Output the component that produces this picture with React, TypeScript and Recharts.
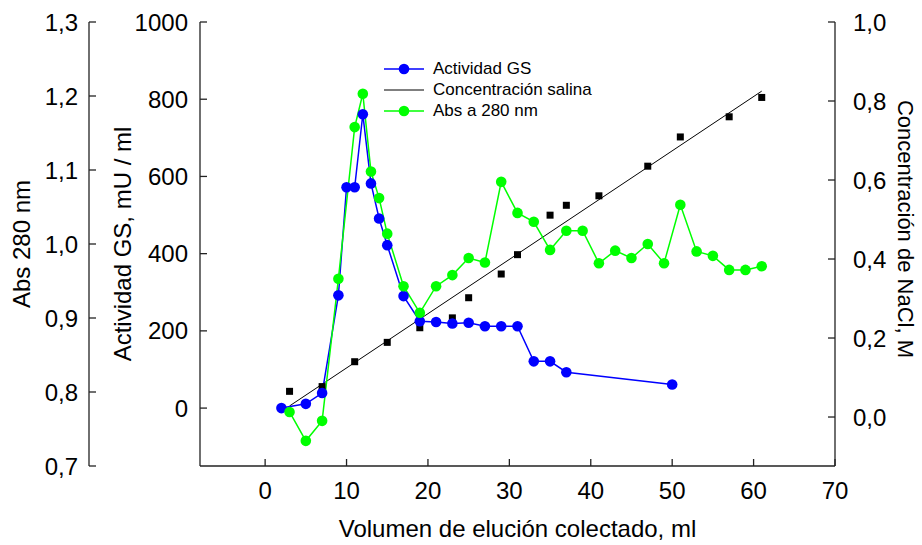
import { ComposedChart, Line, Scatter, XAxis, YAxis, Legend, Label } from 'recharts';

// Actividad GS (mU/ml) por volumen
const gsVolume = [2, 5, 7, 9, 10, 11, 12, 13, 14, 15, 17, 19, 21, 23, 25, 27, 29, 31, 33, 35, 37, 50];
const gsActivity = [0, 11, 39, 292, 572, 572, 761, 582, 491, 422, 290, 225, 223, 219, 221, 212, 212, 212, 121, 121, 93, 61];

// Abs a 280 nm
const absVolume = [3, 5, 7, 9, 11, 12, 13, 14, 15, 17, 19, 21, 23, 25, 27, 29, 31, 33, 35, 37, 39, 41, 43, 45, 47, 49, 51, 53, 55, 57, 59, 61];
const absValue = [
  0.773, 0.734, 0.761, 0.953, 1.158, 1.203, 1.098, 1.062, 1.014, 0.943, 0.907, 0.943, 0.958, 0.981, 0.975, 1.084,
  1.042, 1.03, 0.992, 1.018, 1.018, 0.974, 0.991, 0.981, 1.0, 0.974, 1.053, 0.99, 0.984, 0.965, 0.965, 0.97,
];

// NaCl medido (M)
const naclVolume = [3, 7, 11, 15, 19, 23, 25, 29, 31, 35, 37, 41, 47, 51, 57, 61];
const naclValue = [0.065, 0.077, 0.14, 0.189, 0.226, 0.251, 0.302, 0.362, 0.411, 0.511, 0.536, 0.56, 0.635, 0.709, 0.76, 0.809];

// recta del gradiente
const fitVolume = [3, 61];
const fitValue = [0.028, 0.825];

const volumeTicks = [0, 10, 20, 30, 40, 50, 60, 70];
const gsTicks = [0, 200, 400, 600, 800, 1000];
const absTicks = [0.7, 0.8, 0.9, 1.0, 1.1, 1.2, 1.3];
const naclTicks = [0, 0.2, 0.4, 0.6, 0.8, 1.0];

const legendOrder = ['Actividad GS', 'Concentración salina', 'Abs a 280 nm'];

const FONT = '"Liberation Sans", Arial, Helvetica, sans-serif';
const AXIS = '#222';

const pair = (xs: number[], ys: number[]) => xs.map((x, i) => ({ x, y: ys[i] }));
const comma = (v: number) => v.toFixed(1).replace('.', ',');

const tickStyle = { fill: '#000', fontSize: 24, fontFamily: FONT };
const axisLine = { stroke: AXIS, strokeWidth: 1.3 };
const titleProps = { fill: '#000', fontSize: 24, fontFamily: FONT };

function SquareMark(props: any) {
  const { cx, cy } = props;
  return <rect x={cx - 3.5} y={cy - 3.5} width={7} height={7} fill="#000" />;
}

function LegendBox(props: any) {
  const items = [...(props.payload || [])]
    .filter((p: any) => legendOrder.includes(p.value))
    .sort((a: any, b: any) => legendOrder.indexOf(a.value) - legendOrder.indexOf(b.value));
  return (
    <div style={{ fontFamily: FONT, fontSize: 17, color: '#000' }}>
      {items.map((item: any) => (
        <div key={item.value} style={{ display: 'flex', alignItems: 'center', height: 21.4 }}>
          <svg width={40} height={12} style={{ display: 'block' }}>
            <line x1={0} y1={6} x2={40} y2={6} stroke={item.color} strokeWidth={item.type === 'circle' ? 1.5 : 1} />
            {item.type === 'circle' && <circle cx={20} cy={6} r={5.3} fill={item.color} />}
          </svg>
          <span style={{ marginLeft: 9, whiteSpace: 'nowrap' }}>{item.value}</span>
        </div>
      ))}
    </div>
  );
}

export default function App() {
  return (
    <div style={{ width: 922, height: 545, background: '#fff' }}>
      <style>{'body{margin:0}'}</style>
      <ComposedChart width={922} height={545} margin={{ top: 22, right: 0, bottom: 0, left: 0 }}>
        <XAxis
          dataKey="x"
          type="number"
          domain={[-8, 70]}
          ticks={volumeTicks}
          height={79}
          tick={tickStyle}
          axisLine={axisLine}
          tickLine={axisLine}
          tickSize={-7}
          tickMargin={22.5}
        >
          <Label value="Volumen de elución colectado, ml" position="center" dy={22.5} {...titleProps} />
        </XAxis>
        <XAxis xAxisId="top" orientation="top" type="number" domain={[-8, 70]} height={0} tick={false} tickLine={false} axisLine={axisLine} />
        {/* ids ordenados: "gs" junto al área, "uv" por fuera */}
        <YAxis
          yAxisId="gs"
          type="number"
          domain={[-150, 1000]}
          ticks={gsTicks}
          width={111}
          tick={tickStyle}
          axisLine={axisLine}
          tickLine={axisLine}
          tickSize={-7}
          tickMargin={19}
        >
          <Label value="Actividad GS, mU / ml" angle={-90} position="center" dx={-22} {...titleProps} />
        </YAxis>
        <YAxis
          yAxisId="uv"
          type="number"
          domain={[0.7, 1.3]}
          ticks={absTicks}
          width={89}
          tick={tickStyle}
          tickFormatter={comma}
          axisLine={axisLine}
          tickLine={axisLine}
          tickSize={-7}
          tickMargin={18}
        >
          <Label value="Abs 280 nm" angle={-90} position="center" dx={-23} {...titleProps} />
        </YAxis>
        <YAxis
          yAxisId="nacl"
          orientation="right"
          type="number"
          domain={[-0.124, 1.0]}
          ticks={naclTicks}
          width={87}
          tick={tickStyle}
          tickFormatter={comma}
          axisLine={axisLine}
          tickLine={axisLine}
          tickSize={-7}
          tickMargin={25}
        >
          <Label value="Concentración de NaCl, M" angle={90} position="center" dx={27} dy={-15} {...titleProps} fontSize={22} />
        </YAxis>
        <Legend
          layout="vertical"
          align="center"
          verticalAlign="middle"
          content={LegendBox}
          wrapperStyle={{ left: 384, top: 58, width: 220, height: 66 }}
        />
        <Line
          name="Concentración salina"
          yAxisId="nacl"
          data={pair(fitVolume, fitValue)}
          dataKey="y"
          stroke="#000"
          strokeWidth={1}
          dot={false}
          legendType="line"
          isAnimationActive={false}
        />
        <Line
          name="Actividad GS"
          yAxisId="gs"
          data={pair(gsVolume, gsActivity)}
          dataKey="y"
          stroke="#0000ff"
          strokeWidth={1.5}
          dot={{ r: 5.3, fill: '#0000ff', stroke: 'none' }}
          legendType="circle"
          isAnimationActive={false}
        />
        <Line
          name="Abs a 280 nm"
          yAxisId="uv"
          data={pair(absVolume, absValue)}
          dataKey="y"
          stroke="#00ff00"
          strokeWidth={1.5}
          dot={{ r: 5.3, fill: '#00ff00', stroke: 'none' }}
          legendType="circle"
          isAnimationActive={false}
        />
        <Scatter
          name="NaCl medido"
          yAxisId="nacl"
          data={pair(naclVolume, naclValue)}
          dataKey="y"
          shape={SquareMark}
          legendType="none"
          isAnimationActive={false}
        />
      </ComposedChart>
    </div>
  );
}
